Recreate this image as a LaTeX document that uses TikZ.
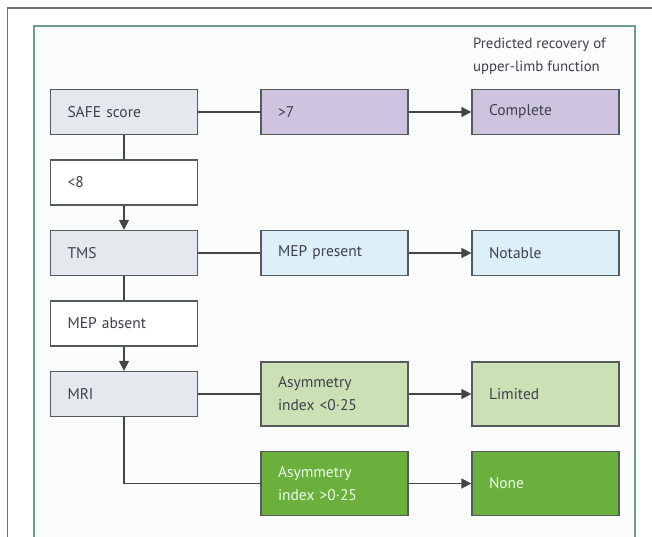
\documentclass[tikz,border=0pt]{standalone}
\usepackage{fontspec}
\setmainfont{PT Sans}
\usetikzlibrary{arrows.meta}
\definecolor{txt}{HTML}{3E414C}
\definecolor{bord}{HTML}{555A5F}
\definecolor{lnk}{HTML}{444444}
\definecolor{grayfill}{HTML}{E5E9ED}
\definecolor{lavender}{HTML}{CEC4DF}
\definecolor{lblue}{HTML}{DDEFF8}
\definecolor{lgreen}{HTML}{CCE0B6}
\definecolor{dgreen}{HTML}{6BAF3C}
\definecolor{frameg}{HTML}{6F9E8C}
\definecolor{framefill}{HTML}{FBFDFC}
\definecolor{outer}{HTML}{707070}
\tikzset{
  box/.style={draw=bord, line width=1.3pt, text=txt, align=left,
    text width=113pt, inner xsep=17pt, inner ysep=0pt,
    minimum height=45pt, font=\fontsize{15.5}{23}\selectfont},
  tall/.style={box, minimum height=64pt},
  link/.style={draw=lnk, line width=1.3pt},
  arr/.style={link, -{Triangle[length=10pt,width=10pt]}}
}
\begin{document}
\begin{tikzpicture}[x=1pt,y=-1pt]
\useasboundingbox (0,0) rectangle (652,536);
\clip (0,0) rectangle (652,536);
\fill[white] (0,0) rectangle (652,536);
\draw[outer, line width=1.2pt] (7.5,560) -- (7.5,8) -- (670,8);
\draw[frameg, fill=framefill, line width=1.6pt] (34,560) -- (34,26) -- (635,26) -- (635,560);
\node[text=txt, align=left, anchor=north west, inner sep=0pt,
  font=\fontsize{14.8}{23}\selectfont] (hdr) at (473,38)
  {Predicted recovery of\\upper-limb function};
% left column
\node[box, fill=grayfill] (safe) at (124,112) {SAFE score};
\node[box, fill=white] (less8) at (124,182.5) {<8};
\node[box, fill=grayfill] (tms) at (124,253) {TMS};
\node[box, fill=white] (mepabs) at (124,323.5) {MEP absent};
\node[box, fill=grayfill] (mri) at (124,394) {MRI};
% middle column
\node[box, fill=lavender] (more7) at (334.5,112) {>7};
\node[box, fill=lblue] (meppres) at (334.5,253) {MEP present};
\node[tall, fill=lgreen] (asym1) at (334.5,394) {Asymmetry\\index <0·25};
\node[tall, fill=dgreen, text=white!92!green] (asym2) at (334.5,483.5) {Asymmetry\\index >0·25};
% right column
\node[box, fill=lavender] (complete) at (545.5,112) {Complete};
\node[box, fill=lblue] (notable) at (545.5,253) {Notable};
\node[tall, fill=lgreen] (limited) at (545.5,394) {Limited};
\node[tall, fill=dgreen, text=white!92!green] (none) at (545.5,483.5) {None};
% connectors
\draw[link] (safe) -- (more7);
\draw[arr] (more7) -- (complete);
\draw[link] (safe) -- (less8);
\draw[arr] (less8) -- (tms);
\draw[link] (tms) -- (meppres);
\draw[arr] (meppres) -- (notable);
\draw[link] (tms) -- (mepabs);
\draw[arr] (mepabs) -- (mri);
\draw[link] (mri) -- (asym1);
\draw[arr] (asym1) -- (limited);
\draw[link] (mri.south) |- (asym2.west);
\draw[arr] (asym2) -- (none);
\end{tikzpicture}
\end{document}
